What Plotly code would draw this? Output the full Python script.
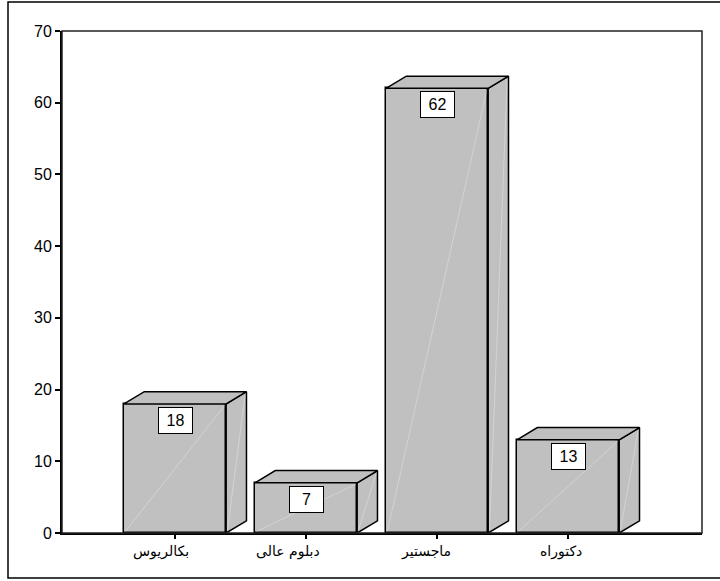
import plotly.graph_objects as go

categories = ["بكالريوس", "دبلوم عالى", "ماجستير", "دكتوراه"]
values = [18, 7, 62, 13]
y_ticks = [0, 10, 20, 30, 40, 50, 60, 70]

BAR_W = 0.78
DX = 0.155   # depth offset in category units
DY = 1.7     # depth offset in value units
FILL = "#c0c0c0"
EDGE = "#000000"

xs = list(range(len(categories)))
fig = go.Figure()

# front faces
fig.add_trace(go.Bar(
    x=xs, y=values, width=BAR_W,
    marker=dict(color=FILL, line=dict(color=EDGE, width=1.5)),
    hoverinfo="skip", showlegend=False,
))

for x, v in zip(xs, values):
    l, r = x - BAR_W / 2, x + BAR_W / 2
    # side face
    fig.add_trace(go.Scatter(
        x=[r, r + DX, r + DX, r, r], y=[0, DY, v + DY, v, 0],
        fill="toself", fillcolor=FILL, mode="lines",
        line=dict(color=EDGE, width=1.5), hoverinfo="skip", showlegend=False))
    # top face
    fig.add_trace(go.Scatter(
        x=[l, l + DX, r + DX, r, l], y=[v, v + DY, v + DY, v, v],
        fill="toself", fillcolor=FILL, mode="lines",
        line=dict(color=EDGE, width=1.5), hoverinfo="skip", showlegend=False))
    # faint highlight diagonals
    fig.add_trace(go.Scatter(
        x=[l + 0.01, r - 0.01], y=[0.2, v - 0.2], mode="lines",
        line=dict(color="rgba(255,255,255,0.3)", width=1),
        hoverinfo="skip", showlegend=False))
    fig.add_trace(go.Scatter(
        x=[r + 0.01, r + DX - 0.01], y=[0.4, v + DY - 0.4], mode="lines",
        line=dict(color="rgba(255,255,255,0.3)", width=1),
        hoverinfo="skip", showlegend=False))

annotations = []
for x, v in zip(xs, values):
    annotations.append(dict(
        x=x, y=v, xref="x", yref="y", text=str(v), showarrow=False,
        yanchor="top", yshift=-3,
        font=dict(family="Liberation Sans, Arial, sans-serif", size=16, color="#000"),
        bgcolor="#ffffff", bordercolor="#000000", borderwidth=1, borderpad=1,
        width=31, height=23,
    ))
# category labels (right-aligned a little past each tick, as in the original)
for x, c in zip(xs, categories):
    annotations.append(dict(
        x=x, y=0, xref="x", yref="paper", text=c, showarrow=False,
        xanchor="right", yanchor="top", xshift=16, yshift=-8,
        font=dict(family="DejaVu Sans, Liberation Sans, sans-serif", size=14, color="#000"),
    ))

shapes = [
    # plot frame
    dict(type="rect", xref="paper", yref="paper", x0=0, y0=0, x1=1, y1=1,
         line=dict(color="#222222", width=1.5), layer="above"),
    # outer border
    dict(type="rect", xref="paper", yref="paper",
         x0=(8 - 62) / 640, x1=(745 - 62) / 640,
         y0=(533 - 578) / 502, y1=(533 - 2) / 502,
         line=dict(color="#000000", width=1.5)),
]

fig.update_layout(
    width=720, height=581,
    margin=dict(l=62, r=18, t=31, b=48),
    paper_bgcolor="white", plot_bgcolor="white",
    showlegend=False,
    bargap=0,
    annotations=annotations,
    shapes=shapes,
    font=dict(family="Liberation Sans, DejaVu Sans, Arial, sans-serif", color="#000"),
    xaxis=dict(
        range=[-0.863, 4.022], tickvals=xs, ticktext=[""] * len(xs),
        showgrid=False, zeroline=False,
        showline=True, linecolor="#000", linewidth=2,
        ticks="outside", ticklen=4, tickwidth=1.5, tickcolor="#000",
        fixedrange=True,
    ),
    yaxis=dict(
        range=[0, 70], tickvals=y_ticks,
        showgrid=False, zeroline=False,
        showline=True, linecolor="#000", linewidth=2,
        ticks="outside", ticklen=5, tickwidth=1.5, tickcolor="#000",
        tickfont=dict(family="Liberation Sans, Arial, sans-serif", size=16),
        fixedrange=True,
    ),
)

fig.write_html("out.html", config={"displayModeBar": False})
